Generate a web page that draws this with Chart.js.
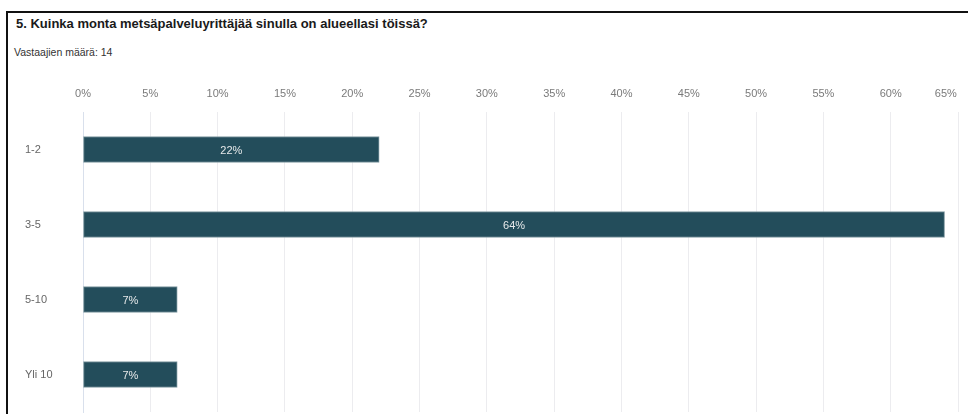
<!DOCTYPE html>
<html>
<head>
<meta charset="utf-8">
<script src="https://cdn.jsdelivr.net/npm/chart.js@4.4.1/dist/chart.umd.min.js"></script>
<style>
  html, body { margin: 0; padding: 0; background: #fff; }
  body { width: 968px; height: 414px; position: relative; overflow: hidden; font-family: "Liberation Sans", Arial, sans-serif; }
  #frame { position: absolute; left: 6px; top: 11px; width: 980px; height: 420px; border-left: 2px solid #111; border-top: 2px solid #111; box-sizing: border-box; }
  #title { position: absolute; left: 16px; top: 16px; font-size: 13px; font-weight: bold; color: #1a1a1a; white-space: nowrap; }
  #subtitle { position: absolute; left: 14px; top: 46px; font-size: 10.5px; color: #333; white-space: nowrap; }
  #wrap { position: absolute; left: 0; top: 0; width: 968px; height: 414px; }
</style>
</head>
<body>
<div id="frame"></div>
<div id="title">5. Kuinka monta metsäpalveluyrittäjää sinulla on alueellasi töissä?</div>
<div id="subtitle">Vastaajien määrä: 14</div>
<div id="wrap"><canvas id="c"></canvas></div>
<script>
const categories = ["1-2", "3-5", "5-10", "Yli 10"];
const percentages = [22, 64, 7, 7];
const valueLabels = ["22%", "64%", "7%", "7%"];
const tickMax = 65;
const tickStep = 5;

const barLabelPlugin = {
  id: 'barLabels',
  afterDatasetsDraw(chart) {
    const ctx = chart.ctx;
    const meta = chart.getDatasetMeta(0);
    ctx.save();
    ctx.font = '11px "Liberation Sans", Arial, sans-serif';
    ctx.fillStyle = '#e6e9ea';
    ctx.textAlign = 'center';
    ctx.textBaseline = 'middle';
    meta.data.forEach((bar, i) => {
      const p = bar.getProps(['x', 'y', 'base'], true);
      ctx.fillText(valueLabels[i], (p.x + p.base) / 2, p.y + 1);
    });
    ctx.restore();
  }
};

new Chart(document.getElementById('c'), {
  type: 'bar',
  data: {
    labels: categories,
    datasets: [{
      data: percentages,
      backgroundColor: '#234d5b',
      borderColor: '#7f98a0',
      borderWidth: 1,
      borderSkipped: false,
      barThickness: 26
    }]
  },
  options: {
    indexAxis: 'y',
    responsive: true,
    maintainAspectRatio: false,
    animation: false,
    layout: { padding: { left: 25, right: 10, top: 88, bottom: 2 } },
    plugins: { legend: { display: false }, tooltip: { enabled: false } },
    scales: {
      x: {
        position: 'top',
        min: 0,
        max: tickMax,
        grid: { color: '#ececef', drawTicks: false, lineWidth: 1 },
        border: { display: false },
        ticks: {
          stepSize: tickStep,
          padding: 11,
          color: '#7a7a7a',
          font: { family: '"Liberation Sans", Arial, sans-serif', size: 11 },
          callback: (v) => v === tickMax ? v + '%\u00a0\u00a0\u00a0\u00a0\u00a0\u00a0\u00a0\u00a0' : v + '%'
        },
        afterFit: (s) => { s.paddingRight = 0; s.paddingLeft = 0; s.height = 24; }
      },
      y: {
        grid: { display: false },
        border: { display: true, color: '#d9e0ec', width: 1 },
        ticks: {
          crossAlign: 'far',
          color: '#666',
          font: { family: '"Liberation Sans", Arial, sans-serif', size: 11 }
        },
        afterFit: (s) => { s.width = 58; s.paddingTop = 0; s.paddingBottom = 0; }
      }
    }
  },
  plugins: [barLabelPlugin]
});
</script>
</body>
</html>
